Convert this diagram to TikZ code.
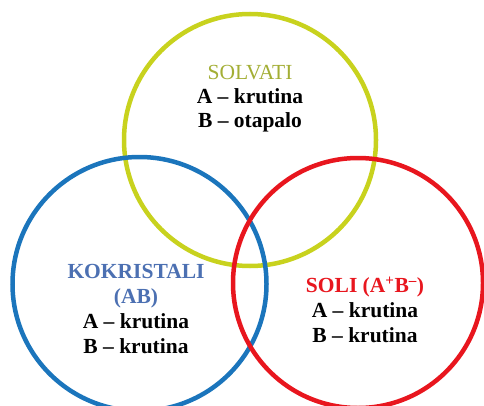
\documentclass[tikz,border=0pt]{standalone}
\usepackage{fontspec}
\setmainfont{Liberation Serif}
\usepackage{tikz}
\usetikzlibrary{positioning}
\usepackage{xcolor}
\definecolor{solvring}{HTML}{C8D21E}
\definecolor{solvtext}{HTML}{A3AE35}
\definecolor{kokring}{HTML}{1B75BC}
\definecolor{koktext}{HTML}{4C70B2}
\definecolor{solring}{HTML}{E8161E}
\tikzset{
  ring/.style={circle,draw,line width=4.5pt,inner sep=0pt},
  label/.style={align=center,font=\fontsize{21.5}{25}\selectfont\bfseries}
}

\begin{document}
\begin{tikzpicture}[x=1pt,y=1pt]
  \useasboundingbox (0,0) rectangle (484,405);
  % three rings
  \node[ring,draw=solvring,minimum size=252pt] (solv) at (250,265) {};
  \node[ring,draw=kokring,minimum size=254pt] (kok) at (139.5,121) {};
  \node[ring,draw=solring,minimum size=250pt] (sol) at (358,122) {};
  % texts
  \node[label,font=\fontsize{21.5}{24}\selectfont\bfseries] (solvtxt) at (250,306)
    {{\mdseries\color{solvtext}SOLVATI}\\A -- krutina\\B -- otapalo};
  \node[label] (koktxt) at (136,96)
    {\color{koktext}KOKRISTALI\\\color{koktext}(AB)\\A -- krutina\\B -- krutina};
  \node[label] (soltxt) at (365,95)
    {\color{solring}SOLI (A\textsuperscript{+}B\textsuperscript{--})\\A -- krutina\\B -- krutina};
\end{tikzpicture}
\end{document}
